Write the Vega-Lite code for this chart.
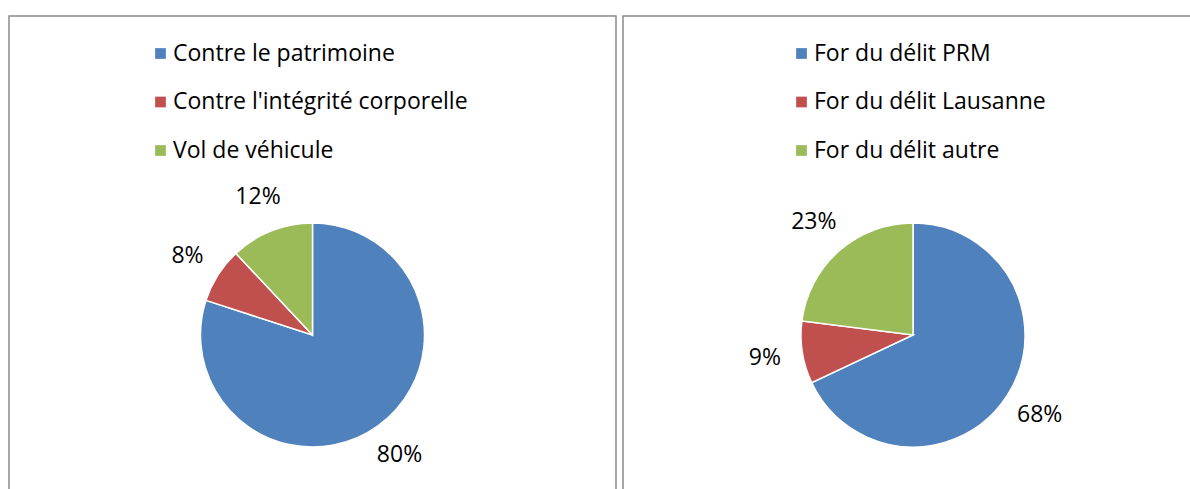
{
  "$schema": "https://vega.github.io/schema/vega-lite/v6.json",
  "padding": {"left": 8, "top": 15, "right": 0, "bottom": 0},
  "background": "white",
  "spacing": 5,
  "hconcat": [
    {
      "width": 607,
      "height": 638,
      "view": {"stroke": "#8a8a8a", "strokeWidth": 1.5, "fill": "white"},
      "data": {"values": [
        {"categorie": "Contre le patrimoine", "part": 0.80, "ordre": 1},
        {"categorie": "Contre l'intégrité corporelle", "part": 0.08, "ordre": 2},
        {"categorie": "Vol de véhicule", "part": 0.12, "ordre": 3}
      ]},
      "encoding": {
        "theta": {"field": "part", "type": "quantitative", "stack": true},
        "order": {"field": "ordre", "type": "quantitative"},
        "color": {
          "field": "categorie", "type": "nominal",
          "scale": {"domain": ["Contre le patrimoine", "Contre l'intégrité corporelle", "Vol de véhicule"], "range": ["#4F81BD", "#C0504D", "#9BBB59"]},
          "legend": {"title": null, "orient": "none", "legendX": 140, "legendY": 26}
        }
      },
      "layer": [
        {"mark": {"type": "arc", "outerRadius": 112, "stroke": "white", "strokeWidth": 1.5}},
        {"mark": {"type": "text", "radius": 148, "fontSize": 23, "font": "Open Sans", "color": "#000000"},
         "encoding": {"text": {"field": "part", "type": "quantitative", "format": ".0%"}, "color": {"value": "#000000"}}}
      ]
    },
    {
      "width": 580,
      "height": 638,
      "view": {"stroke": "#8a8a8a", "strokeWidth": 1.5, "fill": "white"},
      "data": {"values": [
        {"categorie": "For du délit PRM", "part": 0.68, "ordre": 1},
        {"categorie": "For du délit Lausanne", "part": 0.09, "ordre": 2},
        {"categorie": "For du délit autre", "part": 0.23, "ordre": 3}
      ]},
      "encoding": {
        "theta": {"field": "part", "type": "quantitative", "stack": true},
        "order": {"field": "ordre", "type": "quantitative"},
        "color": {
          "field": "categorie", "type": "nominal",
          "scale": {"domain": ["For du délit PRM", "For du délit Lausanne", "For du délit autre"], "range": ["#4F81BD", "#C0504D", "#9BBB59"]},
          "legend": {"title": null, "orient": "none", "legendX": 167, "legendY": 26}
        }
      },
      "layer": [
        {"mark": {"type": "arc", "outerRadius": 112, "stroke": "white", "strokeWidth": 1.5}},
        {"mark": {"type": "text", "radius": 150, "fontSize": 23, "font": "Open Sans", "color": "#000000"},
         "encoding": {"text": {"field": "part", "type": "quantitative", "format": ".0%"}, "color": {"value": "#000000"}}}
      ]
    }
  ],
  "resolve": {"scale": {"color": "independent"}},
  "config": {
    "view": {"stroke": "#8a8a8a", "strokeWidth": 1.5},
    "legend": {
      "padding": 0,
      "symbolType": "square",
      "symbolSize": 115,
      "symbolStrokeWidth": 0,
      "labelFont": "Open Sans",
      "labelFontSize": 23,
      "labelColor": "#000000",
      "labelOffset": 1,
      "labelLimit": 0,
      "rowPadding": 24.5
    }
  }
}
